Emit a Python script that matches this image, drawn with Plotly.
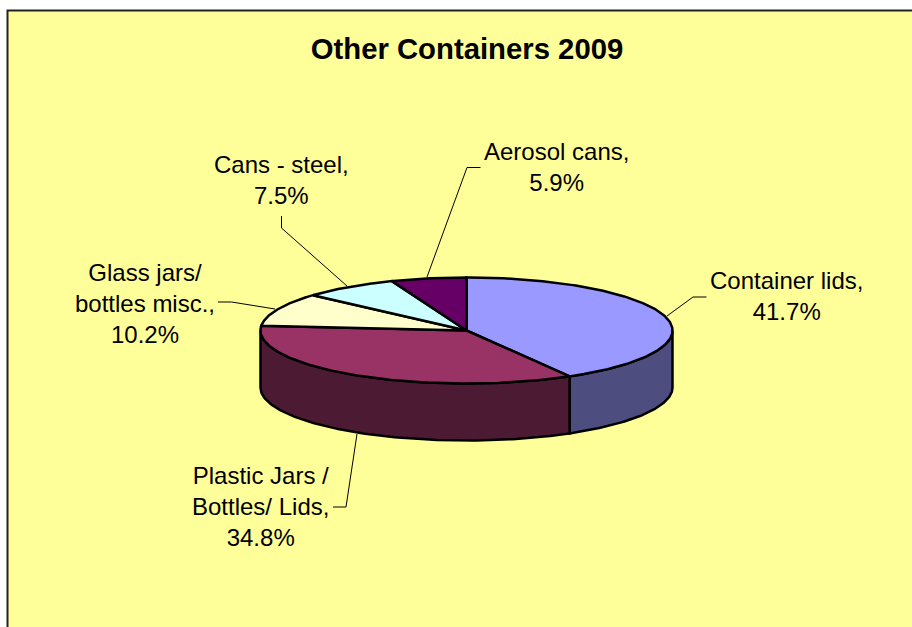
import numpy as np
import plotly.graph_objects as go

categories = ["Container lids", "Plastic Jars / Bottles/ Lids", "Glass jars/ bottles misc.", "Cans - steel", "Aerosol cans"]
shares = [41.7, 34.8, 10.2, 7.5, 5.9]
label_text = ["Container lids,<br>41.7%", "Plastic Jars /<br>Bottles/ Lids,<br>34.8%",
              "Glass jars/<br>bottles misc.,<br>10.2%", "Cans - steel,<br>7.5%", "Aerosol cans,<br>5.9%"]
top_colors = ["#9999FF", "#993366", "#FFFFCC", "#CCFFFF", "#660066"]
side_colors = ["#4D4D80", "#4D1A33", "#808066", "#668080", "#330033"]
label_pos = [(786, 296), (260, 506), (144.5, 303), (281, 180), (556, 167)]
leaders = [
    [(706.5, 297), (693, 297), (667, 316)],
    [(333, 507), (346, 507), (357, 434)],
    [(218, 302), (231.5, 302), (275, 309)],
    [(281.5, 216), (281.5, 228), (347, 286)],
    [(480.5, 167.5), (467, 167.5), (427, 277)],
]
CX, CY, RX, RY, DEPTH = 466.5, 330.5, 206, 53, 57

def ell(deg):
    t = np.radians(deg)
    return CX + RX * np.sin(t), CY - RY * np.cos(t)

fig = go.Figure()
total = sum(shares)
edges = np.concatenate([[0], np.cumsum(shares) / total * 360])

# sides of the disc (front half only)
for i, name in enumerate(categories):
    a, b = max(edges[i], 90), min(edges[i + 1], 270)
    if a >= b:
        continue
    x, y = ell(np.linspace(a, b, 120))
    fig.add_trace(go.Scatter(
        x=np.r_[x, x[::-1], x[0]], y=np.r_[y, y[::-1] + DEPTH, y[0]],
        mode="lines", fill="toself", fillcolor=side_colors[i],
        line=dict(color="black", width=2.5), name=name, hoverinfo="name", showlegend=False))

# top faces
for i, name in enumerate(categories):
    x, y = ell(np.linspace(edges[i], edges[i + 1], 160))
    fig.add_trace(go.Scatter(
        x=np.r_[CX, x, CX], y=np.r_[CY, y, CY],
        mode="lines", fill="toself", fillcolor=top_colors[i],
        line=dict(color="black", width=2.5), name=name,
        text=f"{name}: {shares[i]}%", hoverinfo="text", showlegend=False))

# leader lines
for pts in leaders:
    fig.add_trace(go.Scatter(x=[p[0] for p in pts], y=[p[1] for p in pts], mode="lines",
                             line=dict(color="black", width=1), hoverinfo="skip", showlegend=False))

for txt, (lx, ly) in zip(label_text, label_pos):
    fig.add_annotation(x=lx, y=ly, text=txt, showarrow=False, align="center",
                       font=dict(family="Liberation Sans, Arial, sans-serif", size=24, color="black"))

fig.update_layout(
    width=912, height=627, autosize=False,
    margin=dict(l=0, r=0, t=0, b=0),
    paper_bgcolor="white", plot_bgcolor="white",
    xaxis=dict(range=[0, 912], visible=False, fixedrange=True),
    yaxis=dict(range=[627, 0], visible=False, fixedrange=True),
    title=dict(text="<b>Other Containers 2009</b>", x=467 / 912, y=1 - 49 / 627, xanchor="center", yanchor="middle",
               font=dict(family="Liberation Sans, Arial, sans-serif", size=29.3, color="black")),
    shapes=[dict(type="rect", xref="x", yref="y", x0=7.5, y0=10.5, x1=930, y1=650,
                 fillcolor="#FFFF99", line=dict(color="#222222", width=2), layer="below")],
)
fig.write_html("out.html", config=dict(displayModeBar=False),
               post_script="document.body.style.margin='0';document.documentElement.style.overflow='hidden';")
